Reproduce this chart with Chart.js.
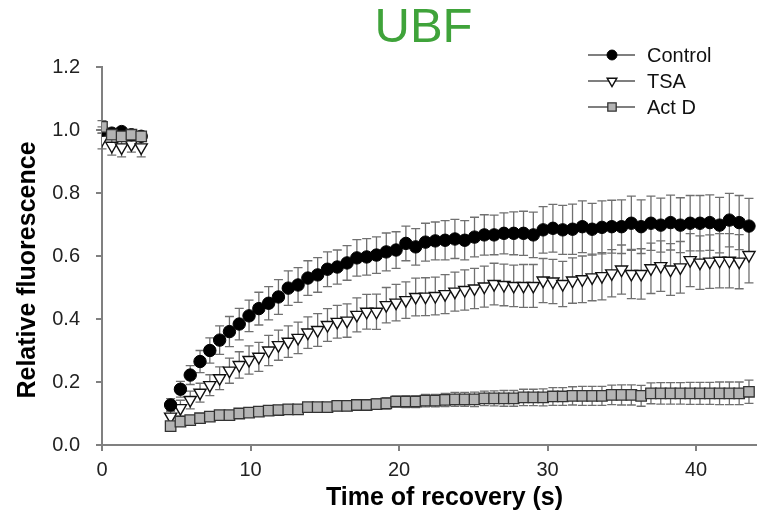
<!DOCTYPE html>
<html>
<head>
<meta charset="utf-8">
<title>UBF recovery</title>
<script src="https://cdn.jsdelivr.net/npm/chart.js"></script>
<style>
  html, body { margin: 0; padding: 0; background: #fff; }
  #wrap { width: 757px; height: 518px; }
</style>
</head>
<body>
<div id="wrap"><canvas id="frapChart" width="757" height="518"></canvas></div>
<script>
// Time points (s): 5 pre-bleach frames, then recovery
const timeSec = [
  0, 0.66, 1.32, 1.98, 2.64,
  4.62, 5.28, 5.94, 6.60, 7.26, 7.92, 8.58, 9.24, 9.90, 10.56,
  11.22, 11.88, 12.54, 13.20, 13.86, 14.52, 15.18, 15.84, 16.50, 17.16,
  17.82, 18.48, 19.14, 19.80, 20.46, 21.12, 21.78, 22.44, 23.10, 23.76,
  24.42, 25.08, 25.74, 26.40, 27.06, 27.72, 28.38, 29.04, 29.70, 30.36,
  31.02, 31.68, 32.34, 33.00, 33.66, 34.32, 34.98, 35.64, 36.30, 36.96,
  37.62, 38.28, 38.94, 39.60, 40.26, 40.92, 41.58, 42.24, 42.90, 43.56
];

const controlMean = [
  1.00, 0.99, 0.995, 0.985, 0.98,
  0.127, 0.177, 0.222, 0.265, 0.300, 0.333, 0.360, 0.384, 0.410, 0.433,
  0.450, 0.470, 0.498, 0.508, 0.530, 0.540, 0.558, 0.565, 0.578, 0.594,
  0.597, 0.603, 0.613, 0.619, 0.640, 0.629, 0.644, 0.648, 0.650, 0.654,
  0.650, 0.660, 0.667, 0.667, 0.672, 0.672, 0.672, 0.667, 0.683, 0.688,
  0.683, 0.685, 0.693, 0.685, 0.691, 0.693, 0.693, 0.704, 0.693, 0.704,
  0.698, 0.706, 0.698, 0.704, 0.704, 0.706, 0.698, 0.714, 0.706, 0.695
];
const controlSd = [
  0.01, 0.01, 0.01, 0.01, 0.01,
  0.020, 0.025, 0.030, 0.035, 0.040, 0.045, 0.048, 0.050, 0.050, 0.052,
  0.053, 0.055, 0.055, 0.055, 0.055, 0.055, 0.055, 0.054, 0.055, 0.058,
  0.058, 0.058, 0.060, 0.058, 0.055, 0.058, 0.060, 0.060, 0.062, 0.062,
  0.062, 0.063, 0.064, 0.063, 0.065, 0.068, 0.070, 0.072, 0.074, 0.076,
  0.078, 0.080, 0.082, 0.082, 0.084, 0.084, 0.085, 0.086, 0.085, 0.086,
  0.086, 0.087, 0.087, 0.088, 0.088, 0.088, 0.088, 0.085, 0.086, 0.088
];

const tsaMean = [
  0.97, 0.95, 0.945, 0.955, 0.945,
  0.090, 0.117, 0.143, 0.166, 0.190, 0.212, 0.236, 0.254, 0.270, 0.280,
  0.300, 0.317, 0.328, 0.340, 0.357, 0.365, 0.381, 0.391, 0.395, 0.413,
  0.423, 0.423, 0.444, 0.452, 0.460, 0.470, 0.471, 0.473, 0.479, 0.487,
  0.492, 0.497, 0.503, 0.511, 0.508, 0.505, 0.505, 0.505, 0.522, 0.519,
  0.511, 0.522, 0.526, 0.532, 0.536, 0.545, 0.557, 0.543, 0.543, 0.561,
  0.568, 0.557, 0.564, 0.587, 0.579, 0.582, 0.585, 0.585, 0.582, 0.603
];
const tsaSd = [
  0.03, 0.03, 0.03, 0.025, 0.03,
  0.020, 0.025, 0.028, 0.030, 0.033, 0.036, 0.040, 0.042, 0.045, 0.046,
  0.048, 0.048, 0.050, 0.050, 0.050, 0.052, 0.052, 0.052, 0.053, 0.054,
  0.055, 0.056, 0.056, 0.058, 0.058, 0.060, 0.060, 0.060, 0.062, 0.062,
  0.064, 0.064, 0.065, 0.066, 0.066, 0.066, 0.068, 0.068, 0.070, 0.070,
  0.072, 0.072, 0.074, 0.074, 0.075, 0.075, 0.078, 0.078, 0.080, 0.080,
  0.080, 0.082, 0.082, 0.084, 0.085, 0.085, 0.086, 0.086, 0.086, 0.088
];

const actDMean = [
  1.01, 0.985, 0.98, 0.985, 0.98,
  0.060, 0.074, 0.079, 0.085, 0.090, 0.095, 0.095, 0.100, 0.103, 0.106,
  0.109, 0.111, 0.113, 0.113, 0.120, 0.120, 0.120, 0.124, 0.124, 0.127,
  0.127, 0.130, 0.132, 0.138, 0.138, 0.138, 0.141, 0.141, 0.143, 0.145,
  0.145, 0.145, 0.148, 0.148, 0.148, 0.148, 0.151, 0.151, 0.151, 0.154,
  0.154, 0.156, 0.156, 0.156, 0.156, 0.159, 0.159, 0.159, 0.156, 0.164,
  0.164, 0.164, 0.164, 0.164, 0.164, 0.164, 0.164, 0.164, 0.164, 0.169
];
const actDSd = [
  0.02, 0.015, 0.015, 0.015, 0.015,
  0.008, 0.008, 0.009, 0.009, 0.010, 0.010, 0.010, 0.011, 0.011, 0.012,
  0.012, 0.012, 0.013, 0.013, 0.014, 0.014, 0.014, 0.015, 0.015, 0.016,
  0.016, 0.017, 0.018, 0.018, 0.019, 0.019, 0.020, 0.020, 0.021, 0.022,
  0.022, 0.023, 0.023, 0.024, 0.025, 0.025, 0.026, 0.026, 0.027, 0.028,
  0.028, 0.029, 0.030, 0.030, 0.030, 0.031, 0.032, 0.032, 0.033, 0.033,
  0.034, 0.034, 0.034, 0.035, 0.035, 0.035, 0.036, 0.036, 0.036, 0.037
];

const seriesNames = ['Control', 'TSA', 'Act D'];
const yTicks = [0, 0.2, 0.4, 0.6, 0.8, 1.0, 1.2];
const xTicks = [0, 10, 20, 30, 40];

const FONT = "'Liberation Sans', Arial, Helvetica, sans-serif";
Chart.defaults.font.family = FONT;

function toPoints(means) {
  return timeSec.map((t, i) => ({ x: t, y: means[i] }));
}

// vertical SD bars with caps, drawn under the markers
const errorBars = {
  id: 'errorBars',
  beforeDatasetsDraw(chart) {
    const ctx = chart.ctx;
    const yScale = chart.scales.y;
    ctx.save();
    ctx.strokeStyle = '#707070';
    ctx.lineWidth = 1.3;
    chart.data.datasets.forEach((ds, di) => {
      const meta = chart.getDatasetMeta(di);
      meta.data.forEach((pt, i) => {
        const v = ds.data[i].y, sd = ds.errors[i];
        const top = yScale.getPixelForValue(v + sd);
        const bot = yScale.getPixelForValue(v - sd);
        ctx.beginPath();
        ctx.moveTo(pt.x, top); ctx.lineTo(pt.x, bot);
        ctx.moveTo(pt.x - 4.5, top); ctx.lineTo(pt.x + 4.5, top);
        ctx.moveTo(pt.x - 4.5, bot); ctx.lineTo(pt.x + 4.5, bot);
        ctx.stroke();
      });
    });
    ctx.restore();
  }
};

// heading, axis titles and the line+marker legend
const decorations = {
  id: 'decorations',
  afterDraw(chart) {
    const ctx = chart.ctx;
    const area = chart.chartArea;
    const midX = (area.left + area.right) / 2;
    const midY = (area.top + area.bottom) / 2;
    ctx.save();
    ctx.textAlign = 'center';
    ctx.textBaseline = 'middle';

    ctx.fillStyle = '#3fa33a';
    ctx.font = '49px ' + FONT;
    ctx.fillText('UBF', midX - 6, 28);

    ctx.fillStyle = '#000';
    ctx.font = 'bold 25px ' + FONT;
    ctx.fillText('Time of recovery (s)', midX + 15, 498);
    ctx.save();
    ctx.translate(28, midY + 14);
    ctx.rotate(-Math.PI / 2);
    ctx.fillText('Relative fluorescence', 0, 0);
    ctx.restore();

    const mx = area.right - 145;
    chart.data.datasets.forEach((ds, i) => {
      const my = area.top - 12 + i * 26;
      ctx.strokeStyle = '#555';
      ctx.lineWidth = 1.5;
      ctx.beginPath();
      ctx.moveTo(mx - 24, my); ctx.lineTo(mx + 23, my);
      ctx.stroke();
      ctx.fillStyle = ds.backgroundColor;
      ctx.strokeStyle = ds.borderColor;
      ctx.lineWidth = ds.borderWidth;
      Chart.helpers.drawPoint(ctx, {
        pointStyle: ds.pointStyle,
        radius: ds.pointRadius * 0.8,
        rotation: ds.rotation || 0,
        borderWidth: ds.borderWidth
      }, mx, my);
      ctx.fillStyle = '#111';
      ctx.font = '20px ' + FONT;
      ctx.textAlign = 'left';
      ctx.fillText(ds.label, mx + 35, my + 1);
    });
    ctx.restore();
  }
};

const ctx = document.getElementById('frapChart').getContext('2d');
const frapChart = new Chart(ctx, {
  type: 'scatter',
  data: {
    datasets: [
      {
        label: seriesNames[0],
        data: toPoints(controlMean),
        errors: controlSd,
        pointStyle: 'circle',
        pointRadius: 6.2,
        backgroundColor: '#000',
        borderColor: '#000',
        borderWidth: 1,
        order: 1
      },
      {
        label: seriesNames[1],
        data: toPoints(tsaMean),
        errors: tsaSd,
        pointStyle: 'triangle',
        rotation: 180,
        pointRadius: 7,
        backgroundColor: '#fff',
        borderColor: '#111',
        borderWidth: 1.4,
        order: 2
      },
      {
        label: seriesNames[2],
        data: toPoints(actDMean),
        errors: actDSd,
        pointStyle: 'rect',
        pointRadius: 7.4,
        backgroundColor: '#b4b4b4',
        borderColor: '#333',
        borderWidth: 1.3,
        order: 0
      }
    ]
  },
  options: {
    responsive: false,
    animation: false,
    events: [],
    layout: { autoPadding: false, padding: { top: 67, right: 0, bottom: 0, left: 0 } },
    plugins: {
      legend: { display: false },
      tooltip: { enabled: false },
      title: { display: false }
    },
    scales: {
      x: {
        type: 'linear',
        min: 0,
        max: 44.1,
        afterFit: scale => {
          scale.height = 73;
          scale.paddingLeft = 0;
          scale.paddingRight = 0;
        },
        afterBuildTicks: scale => { scale.ticks = xTicks.map(v => ({ value: v })); },
        border: { display: true, color: '#808080', width: 2 },
        grid: { drawOnChartArea: false, drawTicks: true, tickLength: 6, color: '#808080', lineWidth: 2 },
        ticks: { color: '#222', font: { size: 20 }, padding: 7, maxRotation: 0 }
      },
      y: {
        type: 'linear',
        min: 0,
        max: 1.2,
        afterFit: scale => { scale.width = 102; },
        afterBuildTicks: scale => { scale.ticks = yTicks.map(v => ({ value: v })); },
        border: { display: true, color: '#808080', width: 2 },
        grid: { drawOnChartArea: false, drawTicks: true, tickLength: 6, color: '#808080', lineWidth: 2 },
        ticks: {
          color: '#222',
          font: { size: 20 },
          padding: 16,
          callback: v => v.toFixed(1)
        }
      }
    }
  },
  plugins: [errorBars, decorations]
});
</script>
</body>
</html>
